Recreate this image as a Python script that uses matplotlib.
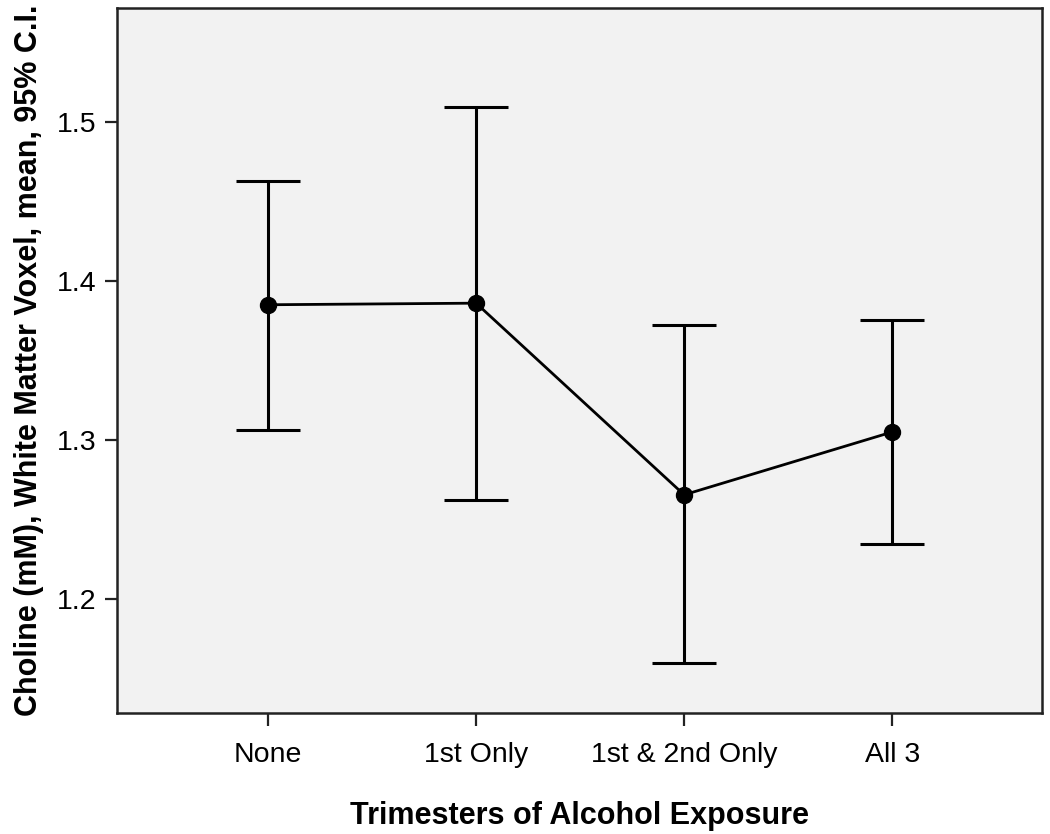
import matplotlib.pyplot as plt

groups = ["None", "1st Only", "1st & 2nd Only", "All 3"]
means = [1.385, 1.386, 1.2655, 1.305]
upper = [1.463, 1.5095, 1.372, 1.3755]
lower = [1.306, 1.2625, 1.1595, 1.2345]

plt.rcParams['font.family'] = ['Liberation Sans', 'DejaVu Sans']

fig = plt.figure(figsize=(10.5, 8.34), dpi=100)
ax = fig.add_axes([0.1114, 0.1451, 0.881, 0.8453])
ax.set_facecolor('#f2f2f2')

x = list(range(len(groups)))
err_lo = [m - l for m, l in zip(means, lower)]
err_hi = [u - m for m, u in zip(means, upper)]
ax.errorbar(x, means, yerr=[err_lo, err_hi], color='black', lw=2.0,
            marker='o', ms=11.5, capsize=23, capthick=2.2, elinewidth=2.2)

ax.set_xlim(-0.726, 3.72)
ax.set_ylim(1.1283, 1.5716)
ax.set_xticks(x)
ax.set_xticklabels(groups)
ax.set_yticks([1.2, 1.3, 1.4, 1.5])
ax.set_yticklabels(["1.2", "1.3", "1.4", "1.5"])
ax.tick_params(labelsize=20.5, length=9, width=1.6, color='#222222', pad=6)
ax.tick_params(axis='x', pad=12)
for s in ax.spines.values():
    s.set_linewidth(1.8)
    s.set_color('#222222')

ax.set_xlabel("Trimesters of Alcohol Exposure", fontsize=22, fontweight='bold', labelpad=24)
ax.set_ylabel("Choline (mM), White Matter Voxel, mean, 95% C.I.", fontsize=22,
              fontweight='bold', labelpad=9)

fig.savefig("out.png", dpi=100)
